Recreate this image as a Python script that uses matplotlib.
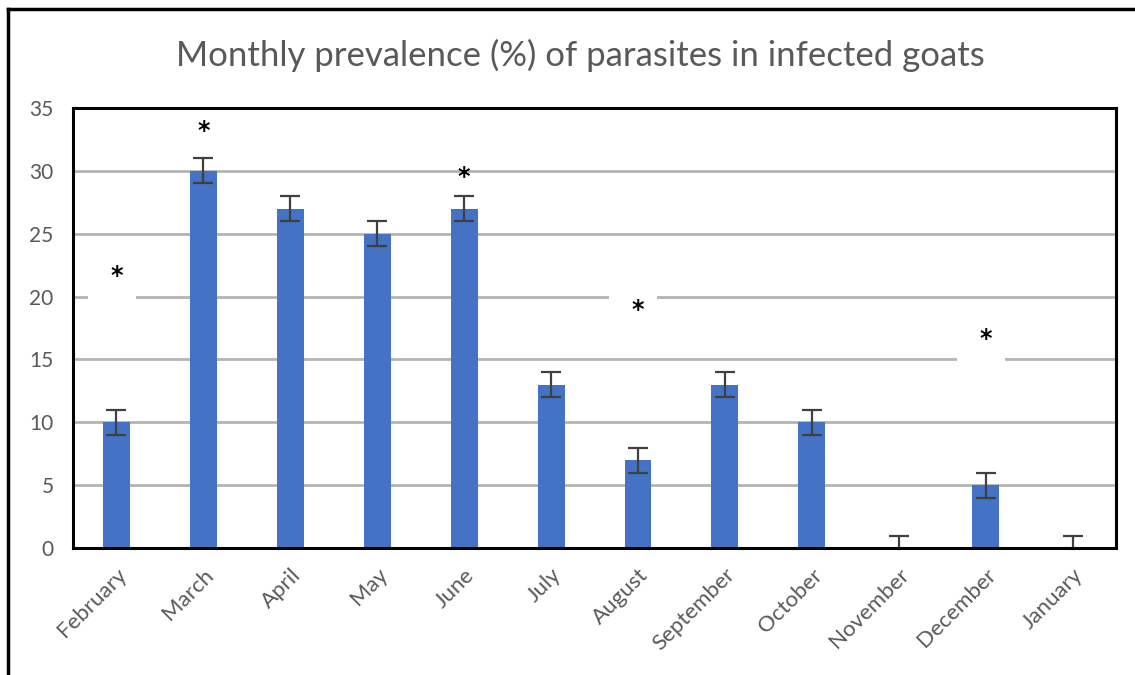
"""Monthly prevalence (%) of parasites in infected goats -- bar chart with error bars."""

import matplotlib
matplotlib.use("Agg")
import matplotlib.pyplot as plt
from matplotlib.lines import Line2D
from matplotlib.patches import Rectangle

months = ["February", "March", "April", "May", "June", "July", "August",
          "September", "October", "November", "December", "January"]
prevalence = [10, 30, 27, 25, 27, 13, 7, 13, 10, 0, 5, 0]
errors = [1, 1, 1, 1, 1, 1, 1, 1, 1, 1, 1, 1]

# significance stars: (month index, height), and which ones sit on a white box
star_idx = [0, 1, 4, 6, 10]
star_y = [21.6, 33.2, 29.5, 18.9, 16.6]
star_boxed = [True, False, False, True, True]

yticks = [0, 5, 10, 15, 20, 25, 30, 35]

BLUE = "#4472C4"
GRAY_TXT = "#595959"

fig = plt.figure(figsize=(11.35, 6.75), dpi=100)
ax = fig.add_axes([0.0643, 0.188, 0.919, 0.652])

x = list(range(len(months)))
ax.bar(x, prevalence, width=0.31, color=BLUE, zorder=3)
ax.errorbar(x, prevalence, yerr=errors, fmt="none", ecolor="#404040",
            elinewidth=1.6, capsize=7, capthick=1.6, zorder=4)

for i, y, boxed in zip(star_idx, star_y, star_boxed):
    if boxed:
        ax.add_patch(Rectangle((i - 0.33, y - 1.8), 0.55, 3.1,
                               facecolor="white", edgecolor="none", zorder=2))
    ax.text(i, y, "*", ha="center", va="center", fontsize=17,
            fontweight="bold", color="black", zorder=5, family="DejaVu Sans")

ax.set_xlim(-0.5, len(months) - 0.5)
ax.set_ylim(0, 35)
ax.set_yticks(yticks)
ax.set_yticklabels([str(t) for t in yticks], fontsize=15, color=GRAY_TXT,
                   family="Lato")
ax.set_xticks(x)
ax.set_xticklabels(months, rotation=45, ha="right", rotation_mode="anchor",
                   fontsize=16, color=GRAY_TXT, family="Lato")
ax.tick_params(axis="both", length=0)
ax.tick_params(axis="y", pad=14)
ax.tick_params(axis="x", pad=12)

ax.yaxis.grid(True, color="#b4b4b4", linewidth=2, zorder=1)
ax.set_axisbelow(True)
for s in ax.spines.values():
    s.set_color("black")
    s.set_linewidth(2.2)
    s.set_zorder(6)

fig.text(0.511, 0.918, "Monthly prevalence (%) of parasites in infected goats",
         ha="center", va="center", fontsize=25, color=GRAY_TXT, family="Lato")

# outer frame (left and top edges visible in the crop)
fig.add_artist(Line2D([8 / 1135, 8 / 1135], [0, 1 - 9 / 675],
                      transform=fig.transFigure, color="black", lw=2.5))
fig.add_artist(Line2D([8 / 1135, 1], [1 - 9 / 675, 1 - 9 / 675],
                      transform=fig.transFigure, color="black", lw=2.5))

fig.savefig("out.png", dpi=100)
